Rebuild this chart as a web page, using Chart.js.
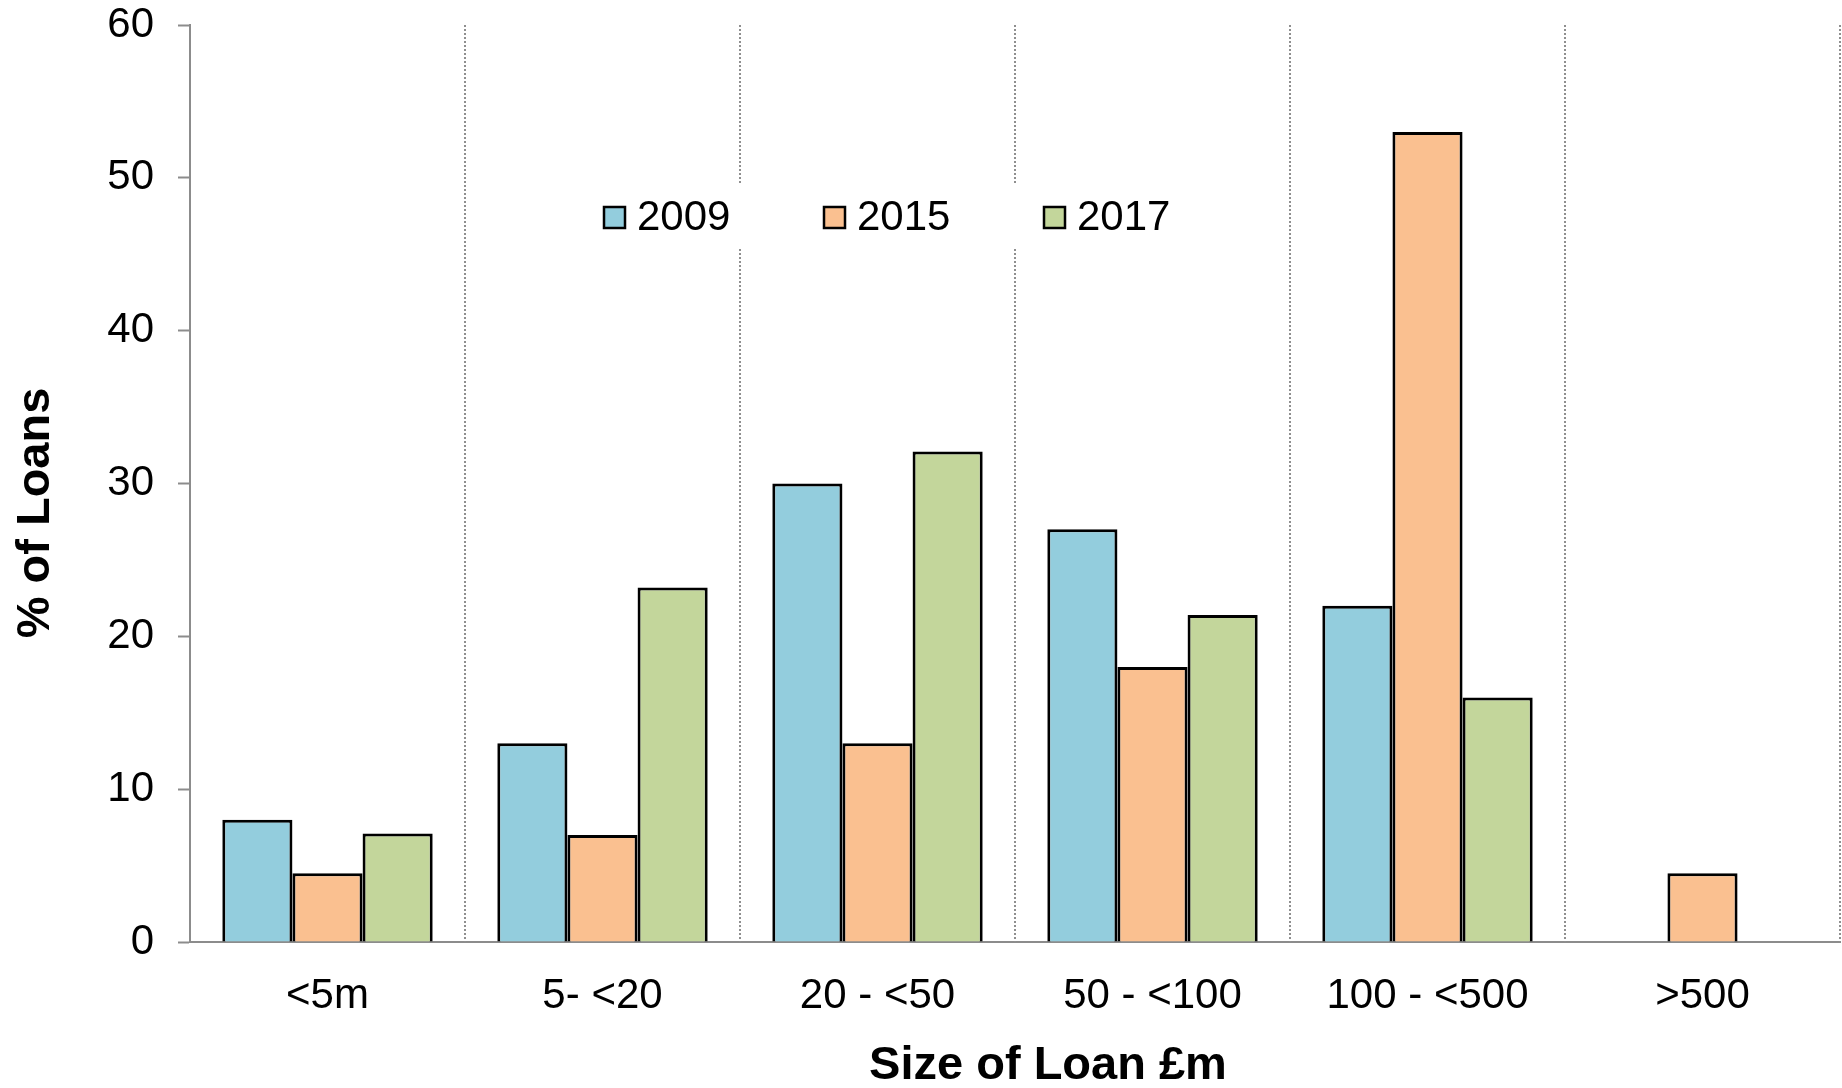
<!DOCTYPE html>
<html>
<head>
<meta charset="utf-8">
<title>Size of Loan</title>
<script src="https://cdn.jsdelivr.net/npm/chart.js@4/dist/chart.umd.min.js"></script>
<style>
  html, body { margin: 0; padding: 0; background: #fff; }
  #wrap { width: 1842px; height: 1088px; }
</style>
</head>
<body>
<div id="wrap"><canvas id="chart" width="1842" height="1088"></canvas></div>
<script>
// loan size bands and share of loans (%) per survey year
const categories = ["<5m", "5- <20", "20 - <50", "50 - <100", "100 - <500", ">500"];
const years = ["2009", "2015", "2017"];
const share2009 = [8, 13, 30, 27, 22, null];
const share2015 = [4.5, 7, 13, 18, 53, 4.5];
const share2017 = [7.1, 23.2, 32.1, 21.4, 16, null];
const yTicks = [0, 10, 20, 30, 40, 50, 60];

const colors = ["#93cddd", "#fac090", "#c3d69b"];
const FONT = '"Liberation Sans", Arial, Helvetica, sans-serif';

// legend sits inside the plot on a white box that hides the grid lines
const boxLegend = {
    id: "boxLegend",
    afterDatasetsDraw(chart) {
        const ctx = chart.ctx;
        ctx.save();
        ctx.fillStyle = "#fff";
        ctx.fillRect(592, 184, 590, 63);
        ctx.font = "42px " + FONT;
        ctx.textBaseline = "middle";
        chart.data.datasets.forEach((ds, i) => {
            const x = 604 + i * 220;
            ctx.fillStyle = ds.backgroundColor;
            ctx.fillRect(x, 207, 21, 21);
            ctx.lineWidth = 2.5;
            ctx.strokeStyle = "#000";
            ctx.strokeRect(x, 207, 21, 21);
            ctx.fillStyle = "#000";
            ctx.fillText(ds.label, x + 33, 218);
        });
        ctx.restore();
    }
};

// axis titles, placed the way the original layout has them
const axisTitles = {
    id: "axisTitles",
    afterDraw(chart) {
        const ctx = chart.ctx;
        ctx.save();
        ctx.fillStyle = "#000";
        ctx.font = "bold 47px " + FONT;
        ctx.textAlign = "center";
        ctx.textBaseline = "middle";
        ctx.fillText("Size of Loan £m", 1048, 1066);
        ctx.translate(36, 513);
        ctx.rotate(-Math.PI / 2);
        ctx.fillText("% of Loans", 0, 0);
        ctx.restore();
    }
};

// dotted separators between loan bands
const dottedGrid = {
    id: "dottedGrid",
    beforeDatasetsDraw(chart) {
        const x = chart.scales.x, area = chart.chartArea, ctx = chart.ctx;
        ctx.save();
        ctx.strokeStyle = "#8f8f8f";
        ctx.lineWidth = 2;
        ctx.setLineDash([2, 2]);
        for (let i = 1; i <= categories.length; i++) {
            const px = Math.round(x.getPixelForValue(i - 0.5));
            ctx.beginPath();
            ctx.moveTo(px, area.top);
            ctx.lineTo(px, area.bottom);
            ctx.stroke();
        }
        ctx.restore();
    }
};

new Chart(document.getElementById("chart"), {
    type: "bar",
    data: {
        labels: categories,
        datasets: [share2009, share2015, share2017].map((d, i) => ({
            label: years[i],
            data: d,
            backgroundColor: colors[i],
            borderColor: "#000",
            borderWidth: 3,
            categoryPercentage: 0.765,
            barPercentage: 1
        }))
    },
    options: {
        responsive: false,
        animation: false,
        layout: { padding: { left: 0, top: 25, right: 2, bottom: 0 } },
        plugins: {
            legend: { display: false },
            tooltip: { enabled: false }
        },
        scales: {
            x: {
                afterFit: s => { s.height = 146; },
                grid: { display: false },
                border: { color: "#8c8c8c", width: 2 },
                ticks: {
                    color: "#000",
                    font: { family: FONT, size: 42, lineHeight: 1 },
                    padding: 25,
                    maxRotation: 0
                }
            },
            y: {
                min: 0,
                max: 60,
                afterFit: s => {
                    s.width = 190;
                    s.paddingTop = 0;
                    s.paddingBottom = 0;
                },
                afterBuildTicks: s => { s.ticks = yTicks.map(v => ({ value: v })); },
                grid: {
                    drawOnChartArea: false,
                    drawTicks: true,
                    tickLength: 12,
                    tickColor: "#8c8c8c",
                    tickWidth: 2
                },
                border: { color: "#8c8c8c", width: 2 },
                ticks: {
                    color: "#000",
                    font: { family: FONT, size: 42, lineHeight: 1 },
                    padding: 24
                }
            }
        }
    },
    plugins: [dottedGrid, boxLegend, axisTitles]
});
</script>
</body>
</html>
